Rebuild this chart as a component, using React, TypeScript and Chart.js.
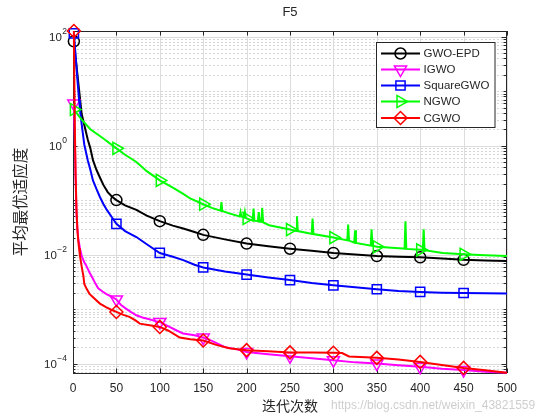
import React, { useEffect, useRef } from 'react';
import { Chart, registerables } from 'chart.js';

Chart.register(...registerables);

// ---------- data ----------
const xTickValues = [0, 50, 100, 150, 200, 250, 300, 350, 400, 450, 500];
const yLabelExponents = [2, 0, -2, -4];
const markerIters = [1, 50, 100, 150, 200, 250, 300, 350, 400, 450];
const seriesNames = ['GWO-EPD', 'IGWO', 'SquareGWO', 'NGWO', 'CGWO'];

const gwoEpdIter = [1, 3, 5, 7, 10, 13, 17, 20, 23, 27, 31, 35, 40, 45, 50, 60, 73, 85, 100, 115, 127, 140, 150, 175, 200, 225, 250, 275, 300, 325, 350, 375, 400, 425, 450, 475, 500];
const gwoEpdVal = [82, 41, 21, 10.5, 3.8, 2.4, 1.3, 0.89, 0.54, 0.36, 0.26, 0.19, 0.14, 0.115, 0.1, 0.08, 0.066, 0.052, 0.041, 0.034, 0.03, 0.026, 0.023, 0.019, 0.0159, 0.0142, 0.0128, 0.0117, 0.0107, 0.01, 0.0094, 0.0091, 0.0089, 0.0085, 0.008, 0.0078, 0.0076];

const igwoIter = [1, 2, 3, 4, 5, 6, 8, 10, 13, 15, 19, 23, 26, 29, 34, 38, 44, 50, 55, 61, 67, 73, 80, 88, 95, 100, 110, 120, 127, 140, 150, 160, 175, 190, 200, 225, 250, 275, 300, 325, 350, 375, 400, 425, 450, 475, 500];
const igwoVal = [5.9, 1.5, 0.25, 0.06, 0.03, 0.02, 0.013, 0.0095, 0.0072, 0.0064, 0.0047, 0.0036, 0.0029, 0.0024, 0.0021, 0.0019, 0.0017, 0.0015, 0.0012, 0.00102, 0.00088, 0.00077, 0.0007, 0.00065, 0.0006, 0.00058, 0.00048, 0.0004, 0.000355, 0.00033, 0.0003, 0.00026, 0.0002, 0.00018, 0.000163, 0.000148, 0.000136, 0.000125, 0.000115, 0.000105, 0.0001, 0.000093, 0.000087, 0.00008, 0.000076, 0.000071, 0.000068];

const squareIter = [1, 3, 5, 7, 8, 10, 13, 17, 20, 23, 27, 31, 35, 39, 45, 50, 60, 73, 85, 100, 115, 127, 140, 150, 175, 200, 225, 250, 275, 300, 325, 350, 375, 400, 425, 450, 475, 500];
const squareVal = [115, 45, 17, 6.8, 4.6, 2.45, 1.05, 0.54, 0.36, 0.23, 0.16, 0.114, 0.085, 0.066, 0.048, 0.0366, 0.027, 0.021, 0.0155, 0.0107, 0.0091, 0.0079, 0.0065, 0.0058, 0.0049, 0.0043, 0.0038, 0.0034, 0.003, 0.00273, 0.0025, 0.00231, 0.00215, 0.00206, 0.002, 0.00197, 0.00194, 0.00192];

const ngwoIter = [1, 10, 20, 35, 50, 60, 73, 85, 100, 115, 127, 135, 150, 160, 170, 171, 172, 180, 192, 193, 194, 197, 198, 199, 200, 207, 208, 209, 213, 214, 215, 217, 218, 219, 226, 250, 257, 258, 259, 273, 275, 276, 277, 300, 316, 317, 318, 324, 325, 326, 343, 344, 345, 350, 380, 382, 383, 384, 400, 403, 404, 405, 426, 450, 475, 500];
const ngwoVal = [4.6, 3.0, 2.0, 1.35, 0.89, 0.68, 0.5, 0.34, 0.23, 0.17, 0.13, 0.107, 0.084, 0.072, 0.064, 0.092, 0.063, 0.057, 0.05, 0.06, 0.05, 0.048, 0.06, 0.047, 0.046, 0.042, 0.07, 0.042, 0.041, 0.06, 0.04, 0.04, 0.072, 0.039, 0.0345, 0.0288, 0.027, 0.0505, 0.027, 0.0243, 0.024, 0.046, 0.0238, 0.0205, 0.0182, 0.0355, 0.018, 0.0166, 0.028, 0.0163, 0.0146, 0.029, 0.0145, 0.0139, 0.0129, 0.0128, 0.041, 0.0127, 0.0122, 0.0121, 0.029, 0.012, 0.0107, 0.0101, 0.0097, 0.0094];

const cgwoIter = [1, 2, 3, 4, 5, 6, 7, 8, 10, 12, 13, 16, 19, 24, 31, 38, 44, 50, 58, 65, 72, 77, 90, 100, 110, 123, 135, 150, 165, 180, 200, 225, 250, 275, 300, 310, 318, 350, 375, 400, 425, 450, 475, 500];
const cgwoVal = [127, 3, 0.3, 0.07, 0.03, 0.018, 0.013, 0.0095, 0.006, 0.004, 0.0029, 0.0023, 0.0019, 0.0016, 0.00126, 0.00108, 0.00097, 0.000885, 0.00078, 0.00072, 0.00062, 0.00054, 0.0005, 0.00047, 0.0004, 0.0003, 0.00028, 0.000265, 0.00022, 0.00019, 0.000176, 0.000168, 0.00016, 0.00016, 0.000158, 0.000156, 0.000135, 0.000127, 0.000118, 0.000107, 0.000094, 0.000083, 0.000075, 0.000068];

const Y_MIN = 6.7e-5;
const Y_MAX = 127;

// ---------- styles ----------
const FONT = '"Liberation Sans", Arial, Helvetica, sans-serif';
const CJK = '"Noto Sans CJK SC", "Noto Sans CJK JP", sans-serif';
const AXIS_COLOR = '#262626';

const seriesStyles = [
  { color: '#000000', shape: 'circle', radius: 5.5, rotation: 0 },
  { color: '#ff00ff', shape: 'triangle', radius: 7, rotation: 180 },
  { color: '#0000ff', shape: 'rect', radius: 6.5, rotation: 0 },
  { color: '#00ff00', shape: 'triangle', radius: 7, rotation: 90 },
  { color: '#ff0000', shape: 'rectRot', radius: 6.5, rotation: 0 },
];

const seriesData = [
  [gwoEpdIter, gwoEpdVal],
  [igwoIter, igwoVal],
  [squareIter, squareVal],
  [ngwoIter, ngwoVal],
  [cgwoIter, cgwoVal],
];

function drawMarker(ctx: CanvasRenderingContext2D, shape: string, x: number, y: number, r: number, rotation: number) {
  const rad = (rotation * Math.PI) / 180;
  ctx.beginPath();
  if (shape === 'circle') {
    ctx.arc(x, y, r, 0, Math.PI * 2);
  } else if (shape === 'triangle') {
    let a = rad;
    for (let i = 0; i < 3; i++) {
      const px = x + Math.sin(a) * r;
      const py = y - Math.cos(a) * r;
      if (i === 0) ctx.moveTo(px, py);
      else ctx.lineTo(px, py);
      a += (2 * Math.PI) / 3;
    }
    ctx.closePath();
  } else if (shape === 'rect') {
    const s = Math.SQRT1_2 * r;
    ctx.rect(x - s, y - s, 2 * s, 2 * s);
  } else if (shape === 'rectRot') {
    ctx.moveTo(x - r, y);
    ctx.lineTo(x, y - r);
    ctx.lineTo(x + r, y);
    ctx.lineTo(x, y + r);
    ctx.closePath();
  }
  ctx.stroke();
}

const framePlugin = {
  id: 'matlabFrame',
  beforeDatasetsDraw(chart: any) {
    const { ctx, chartArea } = chart;
    const { left, right, top, bottom } = chartArea;
    const xs = chart.scales.x;
    const ys = chart.scales.y;
    ctx.save();
    // minor y grid (dotted)
    ctx.lineWidth = 1;
    ctx.strokeStyle = '#d6d6d6';
    ctx.setLineDash([2, 2]);
    for (let e = -5; e <= 2; e++) {
      for (let m = 1; m <= 9; m++) {
        const v = m * Math.pow(10, e);
        if (v <= Y_MIN || v >= Y_MAX) continue;
        if (m === 1 && e % 2 === 0) continue;
        const py = Math.round(ys.getPixelForValue(v)) + 0.5;
        ctx.beginPath();
        ctx.moveTo(left, py);
        ctx.lineTo(right, py);
        ctx.stroke();
      }
    }
    ctx.setLineDash([]);
    ctx.strokeStyle = '#dcdcdc';
    for (const e of yLabelExponents) {
      const py = Math.round(ys.getPixelForValue(Math.pow(10, e))) + 0.5;
      ctx.beginPath();
      ctx.moveTo(left, py);
      ctx.lineTo(right, py);
      ctx.stroke();
    }
    for (const t of xTickValues) {
      const px = Math.round(xs.getPixelForValue(t)) + 0.5;
      ctx.beginPath();
      ctx.moveTo(px, top);
      ctx.lineTo(px, bottom);
      ctx.stroke();
    }
    // box
    ctx.strokeStyle = AXIS_COLOR;
    ctx.lineWidth = 1;
    ctx.strokeRect(Math.round(left) + 0.5, Math.round(top) + 0.5, Math.round(right - left) - 1, Math.round(bottom - top));
    // x ticks (inside, bottom & top)
    for (const t of xTickValues) {
      const px = Math.round(xs.getPixelForValue(t)) + 0.5;
      ctx.beginPath();
      ctx.moveTo(px, bottom);
      ctx.lineTo(px, bottom - 4.5);
      ctx.moveTo(px, top);
      ctx.lineTo(px, top + 4.5);
      ctx.stroke();
    }
    // y ticks (inside, left & right)
    for (let e = -5; e <= 2; e++) {
      for (let m = 1; m <= 9; m++) {
        const v = m * Math.pow(10, e);
        if (v <= Y_MIN || v >= Y_MAX) continue;
        const major = m === 1 && e % 2 === 0;
        const len = major ? 4.5 : 2.5;
        const py = Math.round(ys.getPixelForValue(v)) + 0.5;
        ctx.beginPath();
        ctx.moveTo(left, py);
        ctx.lineTo(left + len, py);
        ctx.moveTo(right - 1, py);
        ctx.lineTo(right - 1 - len, py);
        ctx.stroke();
      }
    }
    // y tick labels 10^e
    ctx.fillStyle = AXIS_COLOR;
    ctx.textBaseline = 'middle';
    for (const e of yLabelExponents) {
      const py = ys.getPixelForValue(Math.pow(10, e));
      const sup = e < 0 ? '\u2212' + Math.abs(e) : String(e);
      ctx.font = `8.5px ${FONT}`;
      const supW = ctx.measureText(sup).width;
      const endX = 67;
      ctx.textAlign = 'left';
      ctx.fillText(sup, endX - supW, py - 4.5);
      ctx.font = `11.5px ${FONT}`;
      ctx.textAlign = 'right';
      ctx.fillText('10', endX - supW - 0.5, py + 1.5);
    }
    ctx.restore();
  },
  afterDraw(chart: any) {
    const { ctx, chartArea } = chart;
    const { left, right, top, bottom } = chartArea;
    const cx = (left + right) / 2;
    ctx.save();
    // title
    ctx.fillStyle = AXIS_COLOR;
    ctx.textAlign = 'center';
    ctx.textBaseline = 'middle';
    ctx.font = `13px ${FONT}`;
    ctx.fillText('F5', cx, 12);
    // axis titles
    ctx.font = `14px ${CJK}`;
    ctx.fillText('迭代次数', cx, 406);
    ctx.save();
    ctx.translate(20, (top + bottom) / 2);
    ctx.rotate(-Math.PI / 2);
    ctx.font = `15.5px ${CJK}`;
    ctx.fillText('平均最优适应度', 0, 0);
    ctx.restore();
    // watermark
    ctx.font = `12px ${FONT}`;
    ctx.fillStyle = 'rgba(190,190,190,0.75)';
    ctx.textAlign = 'left';
    ctx.fillText('https://blog.csdn.net/weixin_43821559', 331, 406);
    // legend
    const bx = 376.5, by = 42.5, bw = 118.5, bh = 85;
    ctx.fillStyle = '#ffffff';
    ctx.fillRect(bx, by, bw, bh);
    ctx.strokeStyle = AXIS_COLOR;
    ctx.lineWidth = 1;
    ctx.strokeRect(bx, by, bw, bh);
    const rowY = [53.5, 69.5, 85.5, 101.5, 118];
    seriesNames.forEach((name, i) => {
      const st = seriesStyles[i];
      const y = rowY[i];
      ctx.strokeStyle = st.color;
      ctx.lineWidth = 2;
      ctx.beginPath();
      ctx.moveTo(381, y);
      ctx.lineTo(420, y);
      ctx.stroke();
      ctx.lineWidth = 1.5;
      drawMarker(ctx, st.shape, 400.5, y, st.radius, st.rotation);
      ctx.fillStyle = AXIS_COLOR;
      ctx.font = `11.5px ${FONT}`;
      ctx.textAlign = 'left';
      ctx.textBaseline = 'middle';
      ctx.fillText(name, 423.5, y + 0.5);
    });
    ctx.restore();
  },
};

export default function App() {
  const canvasRef = useRef<HTMLCanvasElement | null>(null);

  useEffect(() => {
    const canvas = canvasRef.current;
    if (!canvas) return;
    const markerSet = new Set(markerIters);
    const datasets = seriesNames.map((name, i) => {
      const [iters, vals] = seriesData[i];
      const st = seriesStyles[i];
      return {
        label: name,
        data: iters.map((it, k) => ({ x: it, y: vals[k] })),
        borderColor: st.color,
        backgroundColor: st.color,
        borderWidth: 2,
        tension: 0,
        fill: false,
        pointStyle: st.shape,
        pointRotation: st.rotation,
        pointBorderColor: st.color,
        pointBackgroundColor: 'rgba(0,0,0,0)',
        pointBorderWidth: 1.5,
        pointRadius: (ctx: any) => (ctx.raw && markerSet.has(ctx.raw.x) ? st.radius : 0),
        pointHoverRadius: 0,
        order: seriesNames.length - 1 - i,
        clip: 8,
      };
    });

    const chart = new Chart(canvas, {
      type: 'line',
      data: { datasets },
      options: {
        responsive: false,
        animation: false,
        events: [],
        layout: { padding: { left: 0, top: 31, right: 53, bottom: 0 } },
        plugins: {
          legend: { display: false },
          tooltip: { enabled: false },
          title: { display: false },
        },
        scales: {
          x: {
            type: 'linear',
            min: 0,
            max: 500,
            grid: { display: false, drawTicks: false },
            border: { display: false },
            ticks: {
              stepSize: 50,
              autoSkip: false,
              maxRotation: 0,
              padding: 8,
              color: AXIS_COLOR,
              font: { family: FONT, size: 12 },
            },
            afterFit: (s: any) => {
              s.height = 47;
            },
          },
          y: {
            type: 'logarithmic',
            min: Y_MIN,
            max: Y_MAX,
            grid: { display: false, drawTicks: false },
            border: { display: false },
            ticks: { display: false },
            afterFit: (s: any) => {
              s.width = 73;
            },
          },
        },
      },
      plugins: [framePlugin],
    });
    return () => chart.destroy();
  }, []);

  return (
    <div style={{ position: 'fixed', left: 0, top: 0, width: 560, height: 420, background: '#ffffff' }}>
      <canvas ref={canvasRef} width={560} height={420} style={{ width: 560, height: 420, display: 'block' }} />
    </div>
  );
}
